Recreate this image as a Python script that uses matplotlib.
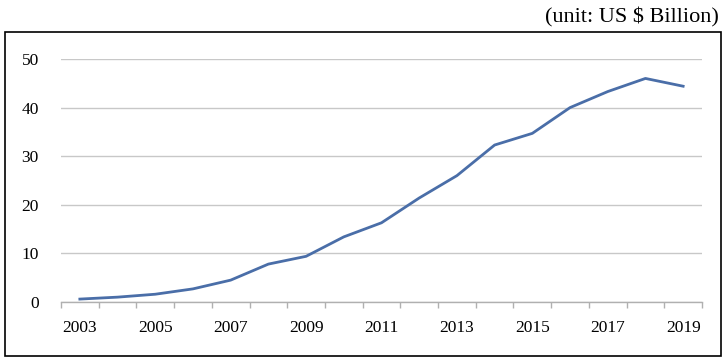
import matplotlib.pyplot as plt
from matplotlib.patches import Rectangle

# data (US $ Billion)
years = [2003, 2004, 2005, 2006, 2007, 2008, 2009, 2010, 2011,
         2012, 2013, 2014, 2015, 2016, 2017, 2018, 2019]
values = [0.6, 1.0, 1.6, 2.7, 4.5, 7.8, 9.4, 13.4, 16.3,
          21.4, 26.0, 32.3, 34.7, 40.0, 43.3, 46.0, 44.4]
y_ticks = [0, 10, 20, 30, 40, 50]
x_tick_labels = ['2003', '2005', '2007', '2009', '2011', '2013', '2015', '2017', '2019']

plt.rcParams['font.family'] = 'Liberation Serif'

fig = plt.figure(figsize=(7.26, 3.6), dpi=100)
W, H = 726, 360
# axes placed in pixel coordinates of the reference
ax = fig.add_axes([61 / W, 1 - 302 / H, (702 - 61) / W, (302 - 59) / H])

idx = list(range(len(years)))
ax.plot(idx, values, color='#4a6ea8', linewidth=2.0, solid_joinstyle='round')

ax.set_xlim(-0.5, len(years) - 0.5)
ax.set_ylim(0, 50)
ax.set_yticks(y_ticks)
ax.yaxis.grid(True, color='#c8c8c8', linewidth=1.0)
ax.set_axisbelow(True)

# category axis: ticks between categories, labels every second year
ax.set_xticks([i - 0.5 for i in range(len(years) + 1)], minor=False)
ax.set_xticklabels([])
for i, y in enumerate(years):
    if str(y) in x_tick_labels:
        ax.text(i, -3.7, str(y), ha='center', va='top', fontsize=12.5)

ax.tick_params(axis='x', length=4, color='#b0b0b0', width=1.0)
ax.tick_params(axis='y', length=0, labelsize=12.5, pad=16)

for side in ['top', 'right', 'left']:
    ax.spines[side].set_visible(False)
ax.spines['bottom'].set_color('#b0b0b0')
ax.spines['bottom'].set_linewidth(1.0)

# outer border box
fig.patches.append(Rectangle((4.5 / W, 1 - 356 / H), (721 - 4.5) / W, (356 - 32) / H,
                             transform=fig.transFigure, fill=False,
                             edgecolor='black', linewidth=1.2))

fig.text(719 / W, 1 - 17 / H, '(unit: US $ Billion)', ha='right', va='center', fontsize=16)

fig.savefig('out.png', dpi=100)
